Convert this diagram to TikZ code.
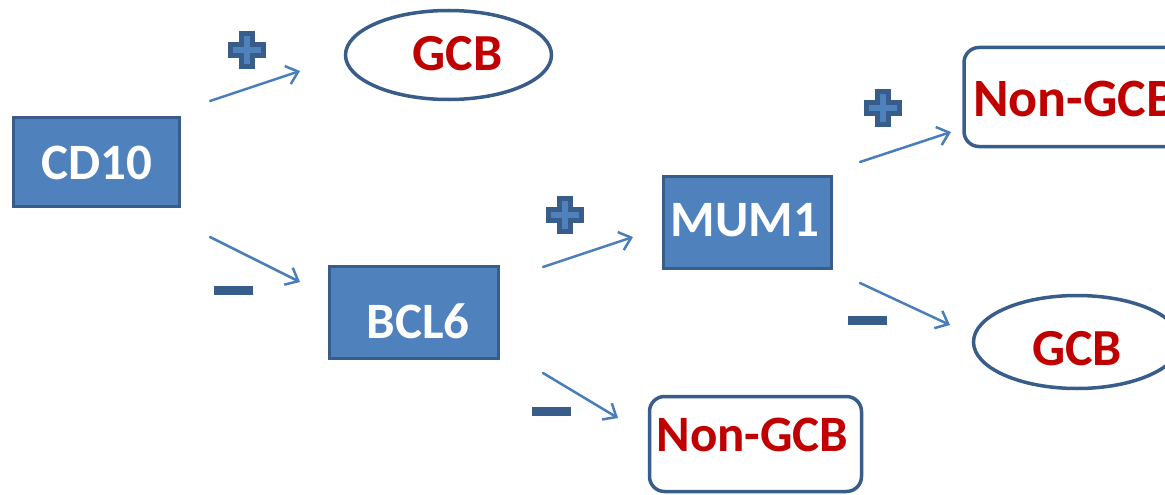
\documentclass[tikz,border=0pt]{standalone}
\usepackage{fontspec}
\setmainfont{Carlito}
\usetikzlibrary{shapes.geometric,arrows.meta}
\definecolor{boxfill}{HTML}{4F81BD}
\definecolor{boxline}{HTML}{385D8A}
\definecolor{arrowc}{HTML}{4A7EBB}
\definecolor{redtxt}{HTML}{C00000}
\tikzset{
  bluebox/.style={draw=boxline, fill=boxfill, line width=3.5pt, rectangle, inner sep=0pt},
  whitetxt/.style={text=white, font=\fontsize{51}{51}\selectfont\bfseries, inner sep=0pt},
  redtxtst/.style={text=redtxt, font=\fontsize{52}{52}\selectfont\bfseries, inner sep=0pt},
  outbox/.style={draw=boxline, fill=white, line width=3.5pt, rectangle, rounded corners=15pt, inner sep=0pt},
  outell/.style={draw=boxline, fill=white, line width=3.5pt, ellipse, inner sep=0pt},
  flow/.style={draw=arrowc, line width=2.5pt, line cap=round, -{Straight Barb[length=11pt,width=19pt,line width=2.5pt]}},
  minussign/.style={fill=boxline, draw=none, rectangle, minimum width=39pt, minimum height=9pt, inner sep=0pt},
}
\newcommand{\plussign}[2]{%
  \draw[fill=boxfill, draw=boxline, line width=4.5pt, line join=miter]
    (#1-5.5,#2-16.5) -- (#1+5.5,#2-16.5) -- (#1+5.5,#2-5.5) -- (#1+16.5,#2-5.5) -- (#1+16.5,#2+5.5)
    -- (#1+5.5,#2+5.5) -- (#1+5.5,#2+16.5) -- (#1-5.5,#2+16.5) -- (#1-5.5,#2+5.5) -- (#1-16.5,#2+5.5)
    -- (#1-16.5,#2-5.5) -- (#1-5.5,#2-5.5) -- cycle;}
\begin{document}
\begin{tikzpicture}[x=1pt,y=-1pt]
\useasboundingbox (0,0) rectangle (1165,495);
% boxes
\node[bluebox, minimum width=166pt, minimum height=89pt] (cd10) at (96.5,162) {};
\node[whitetxt] (cd10t) at (97,163) {CD10};
\node[bluebox, minimum width=169pt, minimum height=92pt] (bcl6) at (414,312.5) {};
\node[whitetxt] (bcl6t) at (418,321) {BCL6};
\node[bluebox, minimum width=168pt, minimum height=92pt] (mum1) at (747.5,222.5) {};
\node[whitetxt] (mum1t) at (745,220) {MUM1};
% outcomes
\node[outell, minimum width=206pt, minimum height=89pt] (gcb1) at (448.5,55) {};
\node[redtxtst] (gcb1t) at (457.5,54) {GCB};
\node[outbox, minimum width=212pt, minimum height=95pt] (ngcb1) at (755.5,444) {};
\node[redtxtst, font=\fontsize{51}{51}\selectfont\bfseries] (ngcb1t) at (752.5,435) {Non-GCB};
\node[outbox, minimum width=218pt, minimum height=99pt] (ngcb2) at (1073,97) {};
\node[redtxtst, font=\fontsize{54}{54}\selectfont\bfseries] (ngcb2t) at (1075,99) {Non-GCB};
\node[outell, minimum width=207pt, minimum height=93pt] (gcb2) at (1077,342) {};
\node[redtxtst] (gcb2t) at (1077,349) {GCB};
% arrow ends
\coordinate (a1s) at (210,101); \coordinate (a1e) at (300,71);
\coordinate (a2s) at (210,237); \coordinate (a2e) at (300,282);
\coordinate (a3s) at (543,267); \coordinate (a3e) at (633,237);
\coordinate (a4s) at (543,373); \coordinate (a4e) at (618,418);
\coordinate (a5s) at (860,162); \coordinate (a5e) at (951,132);
\coordinate (a6s) at (860,283); \coordinate (a6e) at (950,325);
\draw[flow] (a1s) -- (a1e);
\draw[flow] (a2s) -- (a2e);
\draw[flow] (a3s) -- (a3e);
\draw[flow] (a4s) -- (a4e);
\draw[flow] (a5s) -- (a5e);
\draw[flow] (a6s) -- (a6e);
% signs
\plussign{247}{50}
\plussign{565}{215}
\plussign{883}{108}
\node[minussign] (m1) at (233,290.5) {};
\node[minussign] (m2) at (551,411) {};
\node[minussign] (m3) at (867.5,320) {};
\end{tikzpicture}
\end{document}
